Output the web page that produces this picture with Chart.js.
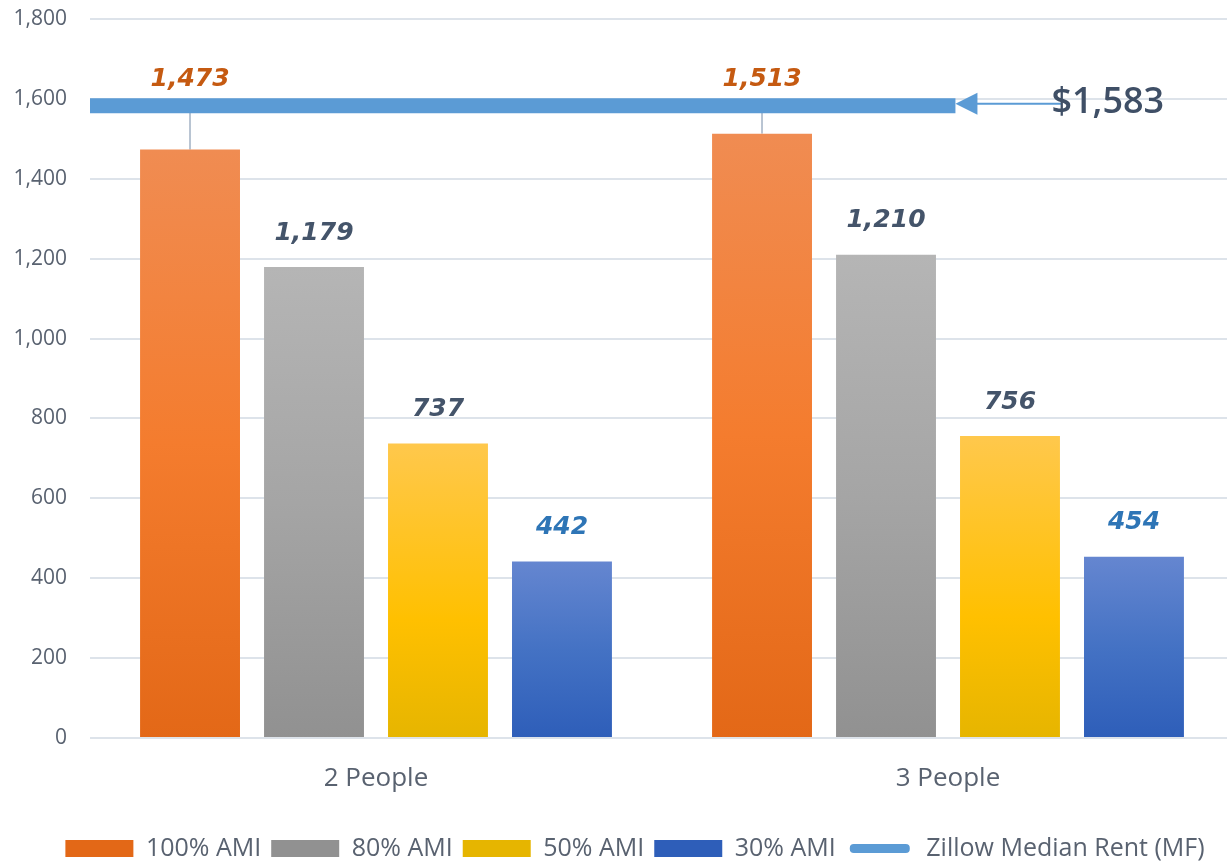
<!DOCTYPE html>
<html>
<head>
<meta charset="utf-8">
<script src="https://cdn.jsdelivr.net/npm/chart.js@4.4.1/dist/chart.umd.min.js"></script>
<style>
  html, body { margin: 0; padding: 0; background: #fff; overflow: hidden; }
  #wrap { position: absolute; left: 0; top: 0; width: 1234px; height: 871px; }
</style>
</head>
<body>
<div id="wrap"><canvas id="rentChart" width="1234" height="871"></canvas></div>
<script>
// Data
const categories = ['2 People', '3 People'];
const ami100 = [1473, 1513];
const ami80 = [1179, 1210];
const ami50 = [737, 756];
const ami30 = [442, 454];
const zillowRent = [1583, 1583];
const rentSpan = [-0.5, 1.013];   // the rent line runs from the left edge to just past "3 People"
const rentLabel = '$1,583';
const yMax = 1800;
const yStep = 200;

const tickColor = '#596270';

// vertical gradient from top of a bar down to its base
function barGradient(stops, solid) {
    return function (ctx) {
        const chart = ctx.chart;
        if (!chart.chartArea || ctx.type !== 'data') return solid;
        const y = chart.scales.y;
        const top = y.getPixelForValue(ctx.raw);
        const bottom = y.getPixelForValue(0);
        const g = chart.ctx.createLinearGradient(0, top, 0, bottom);
        stops.forEach(s => g.addColorStop(s[0], s[1]));
        return g;
    };
}

const labelColors = ['#C55A11', '#44546A', '#44546A', '#2E75B6'];

const barLabels = {
    id: 'barLabels',
    afterLayout(chart) {
        // legend is centred a little right of the canvas middle in the original
        const lg = chart.legend;
        if (lg) { lg.left += 18; lg.right += 18; }
    },
    beforeDatasetsDraw(chart) {
        // leader lines from the 100% AMI bars up to the rent line
        const ctx = chart.ctx;
        const yRent = chart.scales.y.getPixelForValue(zillowRent[0]);
        ctx.save();
        ctx.strokeStyle = '#b8c4d2';
        ctx.lineWidth = 2;
        chart.getDatasetMeta(0).data.forEach(bar => {
            ctx.beginPath();
            ctx.moveTo(bar.x, bar.y);
            ctx.lineTo(bar.x, yRent);
            ctx.stroke();
        });
        ctx.restore();
    },
    afterDatasetsDraw(chart) {
        const ctx = chart.ctx;
        const yScale = chart.scales.y;
        const yRent = yScale.getPixelForValue(zillowRent[0]);
        ctx.save();
        ctx.font = 'italic bold 25px "DejaVu Sans"';
        ctx.textAlign = 'center';
        ctx.textBaseline = 'middle';
        for (let i = 0; i < 4; i++) {
            const ds = chart.data.datasets[i];
            ctx.fillStyle = labelColors[i];
            chart.getDatasetMeta(i).data.forEach((bar, j) => {
                const txt = ds.data[j].toLocaleString('en-US');
                const y = i === 0 ? yRent - 26 : bar.y - 34;
                ctx.fillText(txt, bar.x, y);
            });
        }

        // arrow pointing at the end of the rent line, with its value
        const pts = chart.getDatasetMeta(4).data;
        const end = pts[pts.length - 1];
        const ay = end.y - 2;
        ctx.fillStyle = '#5B9BD5';
        ctx.strokeStyle = '#5B9BD5';
        ctx.lineWidth = 2;
        ctx.beginPath();
        ctx.moveTo(end.x + 20, ay);
        ctx.lineTo(end.x + 106, ay);
        ctx.stroke();
        ctx.beginPath();
        ctx.moveTo(end.x, ay);
        ctx.lineTo(end.x + 22, ay - 11);
        ctx.lineTo(end.x + 22, ay + 11);
        ctx.closePath();
        ctx.fill();

        ctx.font = '600 36px "Open Sans"';
        ctx.fillStyle = '#3f4f66';
        ctx.textAlign = 'left';
        ctx.fillText(rentLabel, end.x + 96, ay - 1);
        ctx.restore();
    }
};

const chart = new Chart(document.getElementById('rentChart'), {
    type: 'bar',
    data: {
        labels: categories,
        datasets: [
            {
                label: '100% AMI',
                data: ami100,
                backgroundColor: barGradient([[0, '#F08C52'], [0.5, '#F47C2E'], [1, '#E36817']], '#F07A2C')
            },
            {
                label: '80% AMI',
                data: ami80,
                backgroundColor: barGradient([[0, '#B5B5B5'], [0.5, '#A5A5A5'], [1, '#919191']], '#A0A0A0')
            },
            {
                label: '50% AMI',
                data: ami50,
                backgroundColor: barGradient([[0, '#FFC84C'], [0.6, '#FFC000'], [1, '#E6B500']], '#FDC011')
            },
            {
                label: '30% AMI',
                data: ami30,
                backgroundColor: barGradient([[0, '#6586D0'], [0.5, '#4472C4'], [1, '#2E5EB9']], '#4570C6')
            },
            {
                type: 'line',
                label: 'Zillow Median Rent (MF)',
                data: zillowRent.map((v, i) => ({ x: rentSpan[i], y: v })),
                parsing: false,
                borderColor: '#5B9BD5',
                backgroundColor: '#5B9BD5',
                borderWidth: 15,
                borderCapStyle: 'butt',
                pointRadius: 0,
                fill: false
            }
        ]
    },
    options: {
        responsive: false,
        animation: false,
        layout: { padding: { left: 0, right: 0, top: 19, bottom: 0 } },
        datasets: {
            bar: { categoryPercentage: 0.867, barPercentage: 0.806 }
        },
        scales: {
            x: {
                bounds: 'ticks',
                grid: { display: false, drawTicks: false },
                border: { display: false },
                ticks: {
                    color: tickColor,
                    padding: 25,
                    font: { family: 'Open Sans', size: 26 }
                },
                afterFit(scale) { scale.height = 88; }
            },
            y: {
                min: 0,
                max: yMax,
                grid: { color: '#dde3ea', lineWidth: 2, drawTicks: false },
                border: { display: false },
                ticks: {
                    stepSize: yStep,
                    color: tickColor,
                    padding: 23,
                    font: { family: 'Open Sans', size: 21 },
                    callback: v => v.toLocaleString('en-US')
                },
                afterFit(scale) {
                    scale.width = 90;
                    scale.paddingTop = 0;   // the tick padding should not push the plot down
                }
            }
        },
        plugins: {
            tooltip: { enabled: false },
            legend: {
                position: 'bottom',
                labels: {
                    color: tickColor,
                    boxWidth: 68,
                    boxHeight: 17,
                    padding: 10,
                    font: { family: 'Open Sans', size: 25 },
                    generateLabels(chart) {
                        const items = Chart.defaults.plugins.legend.labels.generateLabels(chart);
                        items.forEach(it => {
                            if (it.datasetIndex === 4) {
                                // thin rounded bar for the line series
                                it.fillStyle = '#5B9BD5';
                                it.strokeStyle = '#ffffff';
                                it.lineWidth = 8;
                                it.borderRadius = 8;
                                it.lineDash = [];
                            } else {
                                it.lineWidth = 0;
                            }
                        });
                        return items;
                    }
                }
            }
        }
    },
    plugins: [barLabels]
});
</script>
</body>
</html>
